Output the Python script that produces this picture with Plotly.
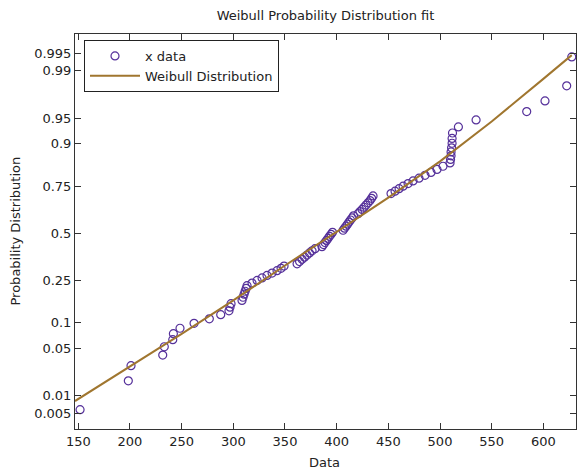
import plotly.graph_objects as go
from statistics import NormalDist

nd = NormalDist()

# sample values (data) and their plotting probabilities
x_data = [151.7, 198.4, 201.0, 231.7, 233.2, 241.4, 242.0, 248.4, 262.0, 276.8,
          287.8, 295.8, 296.8, 297.8, 308.4, 309.4, 310.4, 311.4, 312.4, 313.3,
          318.1, 323.0, 327.8, 332.6, 337.5, 342.3, 346.2, 349.1, 361.7, 364.1,
          366.5, 368.9, 371.3, 373.7, 376.2, 379.1, 385.8, 387.3, 388.7, 390.2,
          391.6, 393.1, 394.6, 396.0, 406.2, 407.6, 409.1, 410.5, 412.0, 413.4,
          414.9, 416.3, 420.7, 422.6, 424.6, 426.5, 428.4, 430.4, 432.3, 433.8,
          435.2, 452.6, 456.5, 460.4, 464.3, 469.1, 473.9, 479.7, 485.5, 491.3,
          497.1, 502.9, 509.7, 510.2, 510.7, 510.7, 511.2, 511.7, 511.7, 512.1,
          517.8, 534.9, 583.9, 601.6, 622.6, 627.5]
p_data = [0.0058, 0.0174, 0.0291, 0.0407, 0.0523, 0.0640, 0.0756, 0.0872, 0.0988, 0.1105,
          0.1221, 0.1337, 0.1453, 0.1570, 0.1686, 0.1802, 0.1919, 0.2035, 0.2151, 0.2267,
          0.2384, 0.2500, 0.2616, 0.2733, 0.2849, 0.2965, 0.3081, 0.3198, 0.3314, 0.3430,
          0.3547, 0.3663, 0.3779, 0.3895, 0.4012, 0.4128, 0.4244, 0.4360, 0.4477, 0.4593,
          0.4709, 0.4826, 0.4942, 0.5058, 0.5174, 0.5291, 0.5407, 0.5523, 0.5640, 0.5756,
          0.5872, 0.5988, 0.6105, 0.6221, 0.6337, 0.6453, 0.6570, 0.6686, 0.6802, 0.6919,
          0.7035, 0.7151, 0.7267, 0.7384, 0.7500, 0.7616, 0.7733, 0.7849, 0.7965, 0.8081,
          0.8198, 0.8314, 0.8430, 0.8547, 0.8663, 0.8779, 0.8895, 0.9012, 0.9128, 0.9244,
          0.9360, 0.9477, 0.9593, 0.9709, 0.9826, 0.9942]

# fitted Weibull line
line_x = [146.8, 200.0, 250.0, 300.0, 350.0, 400.0, 450.0, 500.0, 550.0, 600.0, 627.5]
line_p = [0.0082, 0.0281, 0.0749, 0.1685, 0.3228, 0.5080, 0.6950, 0.8485, 0.9452, 0.98645, 0.99461]

prob_ticks = [0.005, 0.01, 0.05, 0.1, 0.25, 0.5, 0.75, 0.9, 0.95, 0.99, 0.995]
prob_labels = ["0.005", "0.01", "0.05", "0.1", "0.25", "0.5", "0.75", "0.9", "0.95", "0.99", "0.995"]
x_ticks = [150, 200, 250, 300, 350, 400, 450, 500, 550, 600]

def zq(ps):
    return [nd.inv_cdf(p) for p in ps]

FONT = "DejaVu Sans, Verdana, sans-serif"
TXT = "#222222"

fig = go.Figure()
fig.add_trace(go.Scatter(
    x=x_data, y=zq(p_data), mode="markers", name="x data",
    marker=dict(symbol="circle-open", size=8, color="#55309a", line=dict(width=1.2, color="#55309a")),
))
fig.add_trace(go.Scatter(
    x=line_x, y=zq(line_p), mode="lines", name="Weibull Distribution",
    line=dict(color="#a0762f", width=2),
))

W, H = 577, 472
L, R, T, B = 75, 1, 34, 43
pw, ph = W - L - R, H - T - B

fig.update_layout(
    width=W, height=H,
    margin=dict(l=L, r=R, t=T, b=B, pad=0),
    paper_bgcolor="white", plot_bgcolor="white",
    font=dict(family=FONT, size=13, color=TXT),
    title=dict(text="Weibull Probability Distribution fit", x=(L + pw / 2) / W, xanchor="center",
               y=1 - 15.5 / H, yanchor="middle", yref="container",
               font=dict(family=FONT, size=13, color=TXT)),
    showlegend=True,
    legend=dict(x=(84 - L) / pw, y=(H - B - 40) / ph, xanchor="left", yanchor="top",
                bgcolor="white", bordercolor="#222222", borderwidth=1, itemwidth=50,
                font=dict(family=FONT, size=13, color=TXT), tracegroupgap=0),
    xaxis=dict(range=[146.8, 631.6], tickmode="array", tickvals=x_ticks,
               ticktext=[str(v) for v in x_ticks],
               showline=True, linecolor="#333333", linewidth=1, mirror="ticks",
               ticks="inside", ticklen=6, tickcolor="#333333", showgrid=False, zeroline=False,
               tickfont=dict(family=FONT, size=13, color=TXT)),
    yaxis=dict(range=[-2.800, 2.852], tickmode="array", tickvals=zq(prob_ticks), ticktext=prob_labels,
               showline=True, linecolor="#333333", linewidth=1, mirror="ticks",
               ticks="inside", ticklen=6, tickcolor="#333333", showgrid=False, zeroline=False,
               tickfont=dict(family=FONT, size=13, color=TXT)),
    annotations=[
        dict(text="Data", xref="paper", yref="paper", x=(324.5 - L) / pw, y=-(462 - (H - B)) / ph,
             xanchor="center", yanchor="middle", showarrow=False,
             font=dict(family=FONT, size=13, color=TXT)),
        dict(text="Probability Distribution", xref="paper", yref="paper", x=(15 - L) / pw, y=0.5,
             xanchor="center", yanchor="middle", textangle=-90, showarrow=False,
             font=dict(family=FONT, size=13, color=TXT)),
    ],
)

fig.write_html("out.html", config={"displayModeBar": False},
               post_script="document.body.style.margin='0';")
